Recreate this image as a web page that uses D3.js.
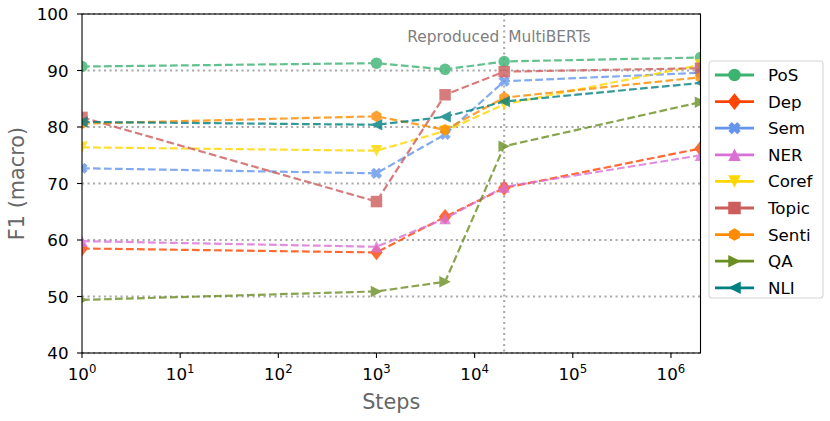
<!DOCTYPE html>
<html>
<head>
<meta charset="utf-8">
<script src="https://cdn.jsdelivr.net/npm/d3@7"></script>
<style>
  html, body { margin: 0; padding: 0; background: #fff; }
  svg { display: block; font-family: "DejaVu Sans", sans-serif; }
</style>
</head>
<body>
<svg id="chart" width="830" height="421"></svg>
<script>
// ---- data ----
const steps = [1, 1000, 5000, 20000, 2000000];
const tasks = ["PoS", "Dep", "Sem", "NER", "Coref", "Topic", "Senti", "QA", "NLI"];
const PoS   = [90.7, 91.3, 90.2, 91.6, 92.3];
const Dep   = [58.5, 57.8, 64.1, 69.2, 76.2];
const Sem   = [72.7, 71.8, 78.7, 88.1, 89.6];
const NER   = [59.8, 58.8, 63.8, 69.4, 75.0];
const Coref = [76.4, 75.8, 79.3, 84.0, 91.0];
const Topic = [81.7, 66.8, 85.7, 89.8, 90.4];
const Senti = [80.6, 81.9, 79.5, 85.2, 88.8];
const QA    = [49.4, 50.9, 52.6, 76.6, 84.4];
const NLI   = [80.9, 80.4, 81.8, 84.5, 87.8];
const yTicks = [40, 50, 60, 70, 80, 90, 100];
const xTicks = [0, 1, 2, 3, 4, 5, 6];
const splitStep = 20000;

const seriesValues = { PoS, Dep, Sem, NER, Coref, Topic, Senti, QA, NLI };
const colors = {
  PoS: "#3CB371", Dep: "#FF4500", Sem: "#6495ED", NER: "#DA70D6", Coref: "#FFD700",
  Topic: "#CD5C5C", Senti: "#FF8C00", QA: "#6B8E23", NLI: "#008080"
};
const markers = {
  PoS: "circle", Dep: "diamond", Sem: "xfilled", NER: "tri_up", Coref: "tri_down",
  Topic: "square", Senti: "hexagon", QA: "tri_right", NLI: "tri_left"
};

// ---- layout ----
const L = 82, R = 700.5, T = 14, B = 353;
const svg = d3.select("#chart");
const x = d3.scaleLog().domain([1, 2000000]).range([L, R]);
const y = d3.scaleLinear().domain([40, 100]).range([B, T]);

function markerPath(type, s) {
  const h = s / 2;
  switch (type) {
    case "circle": return d3.arc()({innerRadius: 0, outerRadius: h, startAngle: 0, endAngle: 2 * Math.PI});
    case "square": return `M${-h},${-h}H${h}V${h}H${-h}Z`;
    case "diamond": { const d = h * 1.35; return `M0,${-d}L${d*0.8},0L0,${d}L${-d*0.8},0Z`; }
    case "tri_up": return `M0,${-h}L${h},${h}L${-h},${h}Z`;
    case "tri_down": return `M0,${h}L${h},${-h}L${-h},${-h}Z`;
    case "tri_right": return `M${h},0L${-h},${h}L${-h},${-h}Z`;
    case "tri_left": return `M${-h},0L${h},${h}L${h},${-h}Z`;
    case "hexagon": {
      let p = "";
      for (let i = 0; i < 6; i++) {
        const a = -Math.PI / 2 + i * Math.PI / 3;
        p += (i ? "L" : "M") + (h * Math.cos(a)).toFixed(2) + "," + (h * Math.sin(a)).toFixed(2);
      }
      return p + "Z";
    }
    case "xfilled": {
      const a = h, t = h * 0.38;
      const pts = [[-t,-a],[t,-a],[t,-t],[a,-t],[a,t],[t,t],[t,a],[-t,a],[-t,t],[-a,t],[-a,-t],[-t,-t]];
      const r = Math.SQRT1_2;
      const rot = pts.map(([px, py]) => [(px - py) * r, (px + py) * r]);
      return "M" + rot.map(p => p[0].toFixed(2) + "," + p[1].toFixed(2)).join("L") + "Z";
    }
  }
}

// clip
svg.append("defs").append("clipPath").attr("id", "plotclip")
  .append("rect").attr("x", L).attr("y", T).attr("width", R - L).attr("height", B - T);

// grid (horizontal dotted)
svg.append("g").selectAll("line").data(yTicks).join("line")
  .attr("x1", L).attr("x2", R).attr("y1", d => y(d)).attr("y2", d => y(d))
  .attr("stroke", "#aaaaaa").attr("stroke-width", 2.1).attr("stroke-dasharray", "2.1,3.4");

// vertical split line
svg.append("line")
  .attr("x1", x(splitStep)).attr("x2", x(splitStep)).attr("y1", T).attr("y2", B)
  .attr("stroke", "#aaaaaa").attr("stroke-width", 2.1).attr("stroke-dasharray", "2.1,3.4");

svg.append("text").attr("x", x(splitStep) - 5).attr("y", 41.5)
  .attr("text-anchor", "end").attr("font-size", 15.4).attr("fill", "#808080").text("Reproduced");
svg.append("text").attr("x", x(splitStep) + 4).attr("y", 41.5)
  .attr("text-anchor", "start").attr("font-size", 15.4).attr("fill", "#808080").text("MultiBERTs");

// series
const plot = svg.append("g").attr("clip-path", "url(#plotclip)");
const line = d3.line().x((d, i) => x(steps[i])).y(d => y(d));
tasks.forEach(t => {
  const g = plot.append("g").attr("opacity", 0.8);
  g.append("path").datum(seriesValues[t]).attr("d", line)
    .attr("fill", "none").attr("stroke", colors[t]).attr("stroke-width", 2.2)
    .attr("stroke-dasharray", "7.7,3.3");
  g.selectAll("path.m").data(seriesValues[t]).join("path").attr("class", "m")
    .attr("transform", (d, i) => `translate(${x(steps[i])},${y(d)})`)
    .attr("d", markerPath(markers[t], 11.5))
    .attr("fill", colors[t]);
});

// spines
svg.append("rect").attr("x", L).attr("y", T).attr("width", R - L).attr("height", B - T)
  .attr("fill", "none").attr("stroke", "#000").attr("stroke-width", 1.1);

// y ticks
const yAxis = svg.append("g");
yTicks.forEach(v => {
  yAxis.append("line").attr("x1", L - 5).attr("x2", L).attr("y1", y(v)).attr("y2", y(v))
    .attr("stroke", "#000").attr("stroke-width", 1.1);
  yAxis.append("text").attr("x", L - 13.5).attr("y", y(v)).attr("dy", "0.36em")
    .attr("text-anchor", "end").attr("font-size", 16.7).attr("fill", "#000").text(v);
});

// x ticks
const xAxis = svg.append("g");
xTicks.forEach(e => {
  const px = x(Math.pow(10, e));
  xAxis.append("line").attr("x1", px).attr("x2", px).attr("y1", B).attr("y2", B + 5)
    .attr("stroke", "#000").attr("stroke-width", 1.1);
  const txt = xAxis.append("text").attr("x", px).attr("y", 379.5)
    .attr("text-anchor", "middle").attr("font-size", 16.7).attr("fill", "#000");
  txt.append("tspan").text("10");
  txt.append("tspan").attr("dy", -7).attr("font-size", 11.7).text(e);
});

// axis labels
svg.append("text").attr("x", (L + R) / 2).attr("y", 409)
  .attr("text-anchor", "middle").attr("font-size", 20.8).attr("fill", "#666666").text("Steps");
svg.append("text").attr("transform", `translate(${24},${(T + B) / 2}) rotate(-90)`)
  .attr("text-anchor", "middle").attr("font-size", 20.8).attr("fill", "#666666").text("F1 (macro)");

// legend
const lg = svg.append("g");
lg.append("rect").attr("x", 709).attr("y", 61).attr("width", 114).attr("height", 237)
  .attr("rx", 3).attr("fill", "#fff").attr("stroke", "#d5d5d5").attr("stroke-width", 1.1);
tasks.forEach((t, i) => {
  const ly = 75 + i * 26.6;
  lg.append("line").attr("x1", 715).attr("x2", 754).attr("y1", ly).attr("y2", ly)
    .attr("stroke", colors[t]).attr("stroke-width", 2.8);
  lg.append("path").attr("transform", `translate(734.5,${ly})`)
    .attr("d", markerPath(markers[t], 12.5)).attr("fill", colors[t]);
  lg.append("text").attr("x", 768).attr("y", ly).attr("dy", "0.36em")
    .attr("font-size", 16.7).attr("fill", "#000").text(t);
});
</script>
</body>
</html>
